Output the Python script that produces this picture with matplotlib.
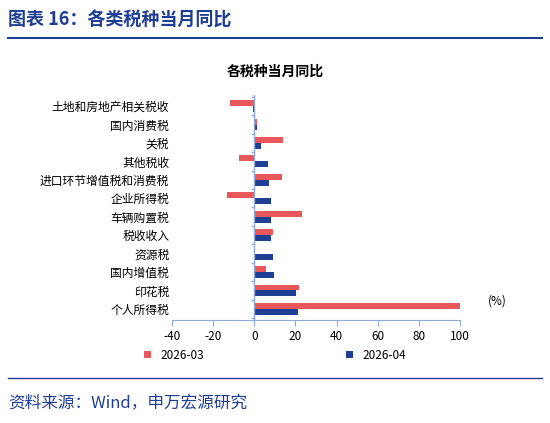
import matplotlib
matplotlib.use("Agg")
import matplotlib.pyplot as plt
import numpy as np

plt.rcParams['font.family'] = ['Noto Sans CJK SC', 'DejaVu Sans']

categories = ["土地和房地产相关税收", "国内消费税", "关税", "其他税收", "进口环节增值税和消费税",
              "企业所得税", "车辆购置税", "税收收入", "资源税", "国内增值税", "印花税", "个人所得税"]
s_mar = [-11.8, 1.5, 14.0, -7.6, 13.3, -13.5, 23.0, 9.1, 0.0, 5.5, 21.5, 100.0]
s_apr = [-0.5, 1.1, 3.4, 6.8, 7.1, 7.9, 8.1, 8.1, 9.2, 9.4, 20.1, 21.4]
xticks = [-40, -20, 0, 20, 40, 60, 80, 100]

W, H = 550, 423
fig = plt.figure(figsize=(W/100, H/100), dpi=100)
ax = fig.add_axes([172/W, 1-320/H, 288/W, 225/H])

red = "#E8585A"; blue = "#1F3F94"
n = len(categories)
y = np.arange(n)[::-1]
h = 0.32
ax.barh(y + h/2, s_mar, height=h, color=red, label="2026-03")
ax.barh(y - h/2, s_apr, height=h, color=blue, label="2026-04")
ax.set_yticks(y)
ax.set_yticklabels(categories, fontsize=8.5)
ax.set_ylim(-0.6, n - 0.4)
ax.set_xlim(-40, 100)
ax.set_xticks(xticks)
ax.set_xticklabels([str(v) for v in xticks], fontsize=8.5)
for s in ["top", "right", "left"]:
    ax.spines[s].set_visible(False)
ax.spines["bottom"].set_color("#8EAADB")
ax.tick_params(axis="y", length=0, pad=80)
for t in ax.get_yticklabels():
    t.set_horizontalalignment("right")
ax.tick_params(axis="y", pad=2)
ax.tick_params(axis="x", color="#8EAADB", length=4)
ax.axvline(0, color="#8EAADB", lw=1)
for yy in np.arange(n + 1) - 0.5:
    ax.plot([-1.2, 0], [yy, yy], color="#8EAADB", lw=1, clip_on=False)
ax.text(1.13, 0.07, "(%)", transform=ax.transAxes, fontsize=8.5, ha="center")

fig.text(8/W, 1-20/H, "图表 16：各类税种当月同比", fontsize=13, fontweight="bold", color="#1F3F94", va="center")
fig.add_artist(plt.Line2D([8/W, 542/W], [1-38/H, 1-38/H], color="#1F3F94", lw=1.5))
fig.text(275/W, 1-72/H, "各税种当月同比", fontsize=10, fontweight="bold", ha="center", va="center")
leg = fig.legend(loc="center", bbox_to_anchor=(275/W, 1-355/H), ncol=2, frameon=False,
                 fontsize=8.5, handlelength=0.6, handleheight=0.6, columnspacing=12)
fig.add_artist(plt.Line2D([8/W, 542/W], [1-378/H, 1-378/H], color="#1F3F94", lw=1))
fig.text(8/W, 1-403/H, "资料来源：Wind，申万宏源研究", fontsize=12, color="#1F3F94", va="center")
fig.savefig("out.png", dpi=100)
